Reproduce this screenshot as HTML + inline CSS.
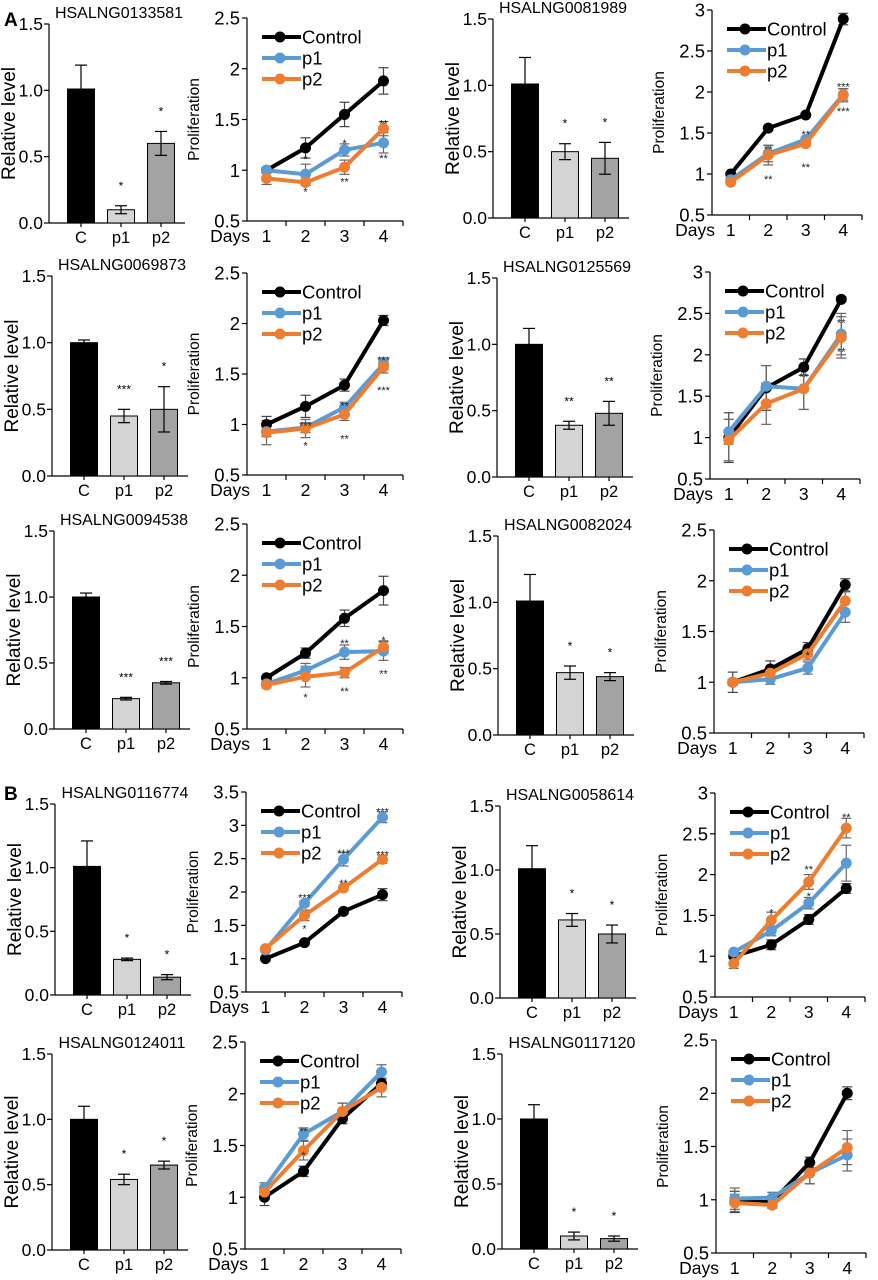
<!DOCTYPE html>
<html><head><meta charset="utf-8"><style>
html,body{margin:0;padding:0;background:#fff;}
svg{display:block;font-family:"Liberation Sans",Arial,sans-serif;}
</style></head><body>
<svg id="fig" width="878" height="1280" viewBox="0 0 878 1280" xmlns="http://www.w3.org/2000/svg">
<rect width="878" height="1280" fill="#fff"/>
<text x="4" y="26" font-size="19" font-weight="bold">A</text>
<text x="4" y="800" font-size="19" font-weight="bold">B</text>
</svg>
<script>
const barCats=['C','p1','p2'];
const barTitles=['HSALNG0133581','HSALNG0081989','HSALNG0069873','HSALNG0125569','HSALNG0094538','HSALNG0082024','HSALNG0116774','HSALNG0058614','HSALNG0124011','HSALNG0117120'];
const barVals=[[1.01,0.10,0.60],[1.01,0.50,0.45],[1.00,0.45,0.50],[1.00,0.39,0.48],[1.00,0.23,0.35],[1.01,0.47,0.44],[1.01,0.28,0.14],[1.01,0.61,0.50],[1.00,0.54,0.65],[1.00,0.10,0.08]];
const barErrs=[[0.18,0.03,0.09],[0.20,0.06,0.12],[0.02,0.05,0.17],[0.12,0.03,0.09],[0.03,0.01,0.01],[0.20,0.05,0.03],[0.20,0.01,0.02],[0.18,0.05,0.07],[0.10,0.04,0.03],[0.11,0.03,0.02]];
const barStars=[['','*','*'],['','*','*'],['','***','*'],['','**','**'],['','***','***'],['','*','*'],['','*','*'],['','*','*'],['','*','*'],['','*','*']];
const barTicks=['0.0','0.5','1.0','1.5'];
const days=[1,2,3,4];
const seriesNames=['Control','p1','p2'];
const lineMax=[2.5,3,2.5,3,2.5,2.5,3.5,3,2.5,2.5];
const ctrlVals=[[1.0,1.22,1.55,1.88],[1.0,1.56,1.72,2.89],[1.0,1.18,1.39,2.03],[1.0,1.6,1.85,2.67],[1.0,1.24,1.58,1.85],[1.0,1.13,1.33,1.96],[1.0,1.24,1.71,1.96],[1.0,1.14,1.45,1.83],[1.0,1.25,1.76,2.1],[0.98,0.98,1.35,2.0]];
const ctrlErrs=[[.02,.1,.12,.13],[.02,.02,.02,.07],[.08,.11,.06,.05],[.3,.27,.1,.03],[.02,.05,.08,.14],[.1,.08,.06,.06],[.02,.03,.04,.09],[.02,.06,.06,.06],[.08,.05,.05,.05],[.1,.05,.05,.06]];
const p1Vals=[[1.0,0.96,1.2,1.27],[0.93,1.25,1.42,1.97],[0.93,0.97,1.17,1.6],[1.07,1.62,1.59,2.25],[0.94,1.07,1.25,1.26],[1.0,1.03,1.14,1.69],[1.13,1.83,2.49,3.12],[1.05,1.31,1.65,2.14],[1.09,1.61,1.83,2.21],[1.01,1.02,1.25,1.42]];
const p1Errs=[[.03,.1,.06,.1],[.02,.1,.03,.07],[.05,.05,.05,.06],[.15,.25,.25,.25],[.02,.07,.07,.09],[.03,.05,.06,.1],[.03,.04,.1,.08],[.02,.06,.07,.22],[.05,.06,.08,.07],[.1,.05,.1,.15]];
const p2Vals=[[0.92,0.88,1.03,1.41],[0.9,1.23,1.37,1.96],[0.92,0.96,1.1,1.57],[0.97,1.41,1.59,2.21],[0.93,1.01,1.05,1.3],[1.0,1.09,1.28,1.8],[1.15,1.65,2.06,2.49],[0.91,1.44,1.91,2.57],[1.05,1.45,1.83,2.06],[0.97,0.95,1.25,1.49]];
const p2Errs=[[.06,.03,.07,.07],[.02,.12,.03,.08],[.12,.09,.06,.06],[.25,.25,.25,.25],[.03,.1,.05,.06],[.03,.05,.06,.09],[.03,.08,.04,.06],[.06,.1,.09,.12],[.04,.09,.08,.09],[.08,.03,.1,.16]];
const lineStars=[
 [[2,1.12,'*'],[2,0.8,'*'],[3,1.28,'*'],[3,0.9,'**'],[4,1.47,'**'],[4,1.13,'**']],
 [[2,1.32,'**'],[2,0.95,'**'],[3,1.5,'**'],[3,1.1,'**'],[4,2.08,'***'],[4,1.78,'***']],
 [[2,1.0,'***'],[2,0.8,'*'],[3,1.2,'**'],[3,0.87,'**'],[4,1.65,'***'],[4,1.35,'***']],
 [[3,1.75,'**'],[4,2.4,'**'],[4,2.05,'**']],
 [[2,0.82,'*'],[3,1.35,'**'],[3,0.88,'**'],[4,1.38,'*'],[4,1.05,'**']],
 [[3,1.28,'*']],
 [[2,1.93,'***'],[2,1.47,'*'],[3,2.6,'***'],[3,2.15,'**'],[4,3.22,'***'],[4,2.58,'***']],
 [[2,1.55,'*'],[3,1.75,'*'],[3,2.08,'**'],[4,2.72,'**']],
 [[2,1.65,'**'],[2,1.42,'*']],
 []
];
const barGeom=[[49,24,223],[493,19,218],[52,276,476],[497,278,477],[54,531,729],[498,536,735],[55,804,995],[500,806,998],[52,1054,1250],[502,1054,1249]];
const lineGeom=[[247,18,221,39],[712,10,215,37.5],[247,273,475,39],[710,272,479,37.5],[247,524,729,39],[714,530,733,37.5],[246,792,992,39],[715,793,997,37.5],[245,1042,1249,39],[716,1040,1253,37.5]];
const colors=['#000000','#5b9bd5','#ed7d31'];
const barFills=['#000000','#d4d4d4','#a3a3a3'];

const svg=document.getElementById('fig');
const NS='http://www.w3.org/2000/svg';
function mk(tag,attrs,parent,txt){const e=document.createElementNS(NS,tag);for(const k in attrs)e.setAttribute(k,attrs[k]);if(txt!==undefined)e.textContent=txt;(parent||svg).appendChild(e);return e;}

barGeom.forEach((g,i)=>{
  const [ax,yTop,y0]=g;
  const grp=mk('g',{});
  
  
  const y=v=>y0-(v/1.5)*(y0-yTop);
  const xc=k=>ax+32+k*40;
  const t=mk('text',{x:ax+70,y:yTop-6,'font-size':16,'text-anchor':'middle'},grp,barTitles[i]);
  
  
  mk('line',{x1:ax,y1:yTop,x2:ax,y2:y0,stroke:'#000','stroke-width':1.2},grp);
  mk('line',{x1:ax,y1:y0,x2:ax+136,y2:y0,stroke:'#000','stroke-width':1.2},grp);
  barTicks.forEach((tk,k)=>{const v=k*0.5;
    mk('line',{x1:ax-5,y1:y(v),x2:ax,y2:y(v),stroke:'#000','stroke-width':1.2},grp);
    const tl=mk('text',{x:ax-6,y:y(v)+6,'font-size':17.5,'text-anchor':'end'},grp,tk);
    
    
  });
  const yl=mk('text',{x:0,y:0,'font-size':19,'text-anchor':'middle',transform:`translate(${ax-34},${(yTop+y0)/2}) rotate(-90)`},grp,'Relative level');
  
  
  barCats.forEach((c,k)=>{
    const v=barVals[i][k],e=barErrs[i][k],x=xc(k);
    const r=mk('rect',{x:x-13.5,y:y(v),width:27,height:y0-y(v),fill:barFills[k],stroke:'#000','stroke-width':1},grp);
    
    
    mk('line',{x1:x,y1:y(v+e),x2:x,y2:y(Math.max(0,v-e)),stroke:'#000','stroke-width':1.2},grp);
    mk('line',{x1:x-6,y1:y(v+e),x2:x+6,y2:y(v+e),stroke:'#000','stroke-width':1.2},grp);
    if(k>0) mk('line',{x1:x-6,y1:y(Math.max(0,v-e)),x2:x+6,y2:y(Math.max(0,v-e)),stroke:'#000','stroke-width':1.2},grp);
    mk('line',{x1:x,y1:y0,x2:x,y2:y0+4,stroke:'#000','stroke-width':1.2},grp);
    const cl=mk('text',{x:x,y:y0+20,'font-size':16.5,'text-anchor':'middle'},grp,c);
    
    
    if(barStars[i][k]){const s=mk('text',{x:x,y:y(v+e)-16,'font-size':12,'text-anchor':'middle'},grp,barStars[i][k]);
      
      }
  });
});

lineGeom.forEach((g,i)=>{
  const [lx,yTop,yBot,sp]=g;
  const mx=lineMax[i];
  const grp=mk('g',{});
  
  
  const y=v=>yBot-((v-0.5)/(mx-0.5))*(yBot-yTop);
  const x=d=>lx+sp*(d-1)+sp/2;
  mk('line',{x1:lx,y1:yTop,x2:lx,y2:yBot,stroke:'#000','stroke-width':1.2},grp);
  mk('line',{x1:lx,y1:yBot,x2:lx+sp*4,y2:yBot,stroke:'#000','stroke-width':1.2},grp);
  for(let v=0.5;v<=mx+1e-6;v+=0.5){
    mk('line',{x1:lx-5,y1:y(v),x2:lx,y2:y(v),stroke:'#000','stroke-width':1.2},grp);
    const tl=mk('text',{x:lx-7,y:y(v)+6.5,'font-size':18.5,'text-anchor':'end'},grp,String(v));
    
    
  }
  for(let k=1;k<=4;k++) mk('line',{x1:lx+sp*k,y1:yBot,x2:lx+sp*k,y2:yBot+5,stroke:'#000','stroke-width':1.2},grp);
  const yl=mk('text',{x:0,y:0,'font-size':15.5,'text-anchor':'middle',transform:`translate(${lx-48},${(yTop+yBot)/2}) rotate(-90)`},grp,'Proliferation');
  
  
  const dl=mk('text',{x:lx+3,y:yBot+21,'font-size':17.5,'text-anchor':'end'},grp,'Days');
  
  
  days.forEach(d=>{const t=mk('text',{x:x(d),y:yBot+21,'font-size':17.5,'text-anchor':'middle'},grp,String(d));
    
    });
  const vals=[ctrlVals[i],p1Vals[i],p2Vals[i]], errs=[ctrlErrs[i],p1Errs[i],p2Errs[i]];
  [0,1,2].forEach(s=>{
    const ec=s===0?'#444':'#666';
    days.forEach((d,k)=>{const v=vals[s][k],e=errs[s][k],xx=x(d);
      mk('line',{x1:xx,y1:y(v+e),x2:xx,y2:y(v-e),stroke:ec,'stroke-width':1.2},grp);
      mk('line',{x1:xx-5,y1:y(v+e),x2:xx+5,y2:y(v+e),stroke:ec,'stroke-width':1.2},grp);
      mk('line',{x1:xx-5,y1:y(v-e),x2:xx+5,y2:y(v-e),stroke:ec,'stroke-width':1.2},grp);
    });
  });
  [0,1,2].forEach(s=>{
    const pts=days.map((d,k)=>x(d)+','+y(vals[s][k])).join(' ');
    const pl=mk('polyline',{points:pts,fill:'none',stroke:colors[s],'stroke-width':4,'stroke-linejoin':'round'},grp);
    
    
    days.forEach((d,k)=>{const c=mk('circle',{cx:x(d),cy:y(vals[s][k]),r:5.5,fill:colors[s]},grp);
      
      });
  });
  lineStars[i].forEach(st=>{const t=mk('text',{x:x(st[0]),y:y(st[1])+5,'font-size':11,'text-anchor':'middle',fill:'#222'},grp,st[2]);
    
    });
  seriesNames.forEach((n,s)=>{
    const ly=yTop+19+s*21;
    const lg=mk('g',{},grp);
    
    
    mk('line',{x1:lx+15,y1:ly,x2:lx+54,y2:ly,stroke:colors[s],'stroke-width':4},lg);
    mk('circle',{cx:lx+33,cy:ly,r:5.5,fill:colors[s]},lg);
    mk('text',{x:lx+55,y:ly+6.5,'font-size':18.5},lg,n);
  });
});
</script>
</body></html>
